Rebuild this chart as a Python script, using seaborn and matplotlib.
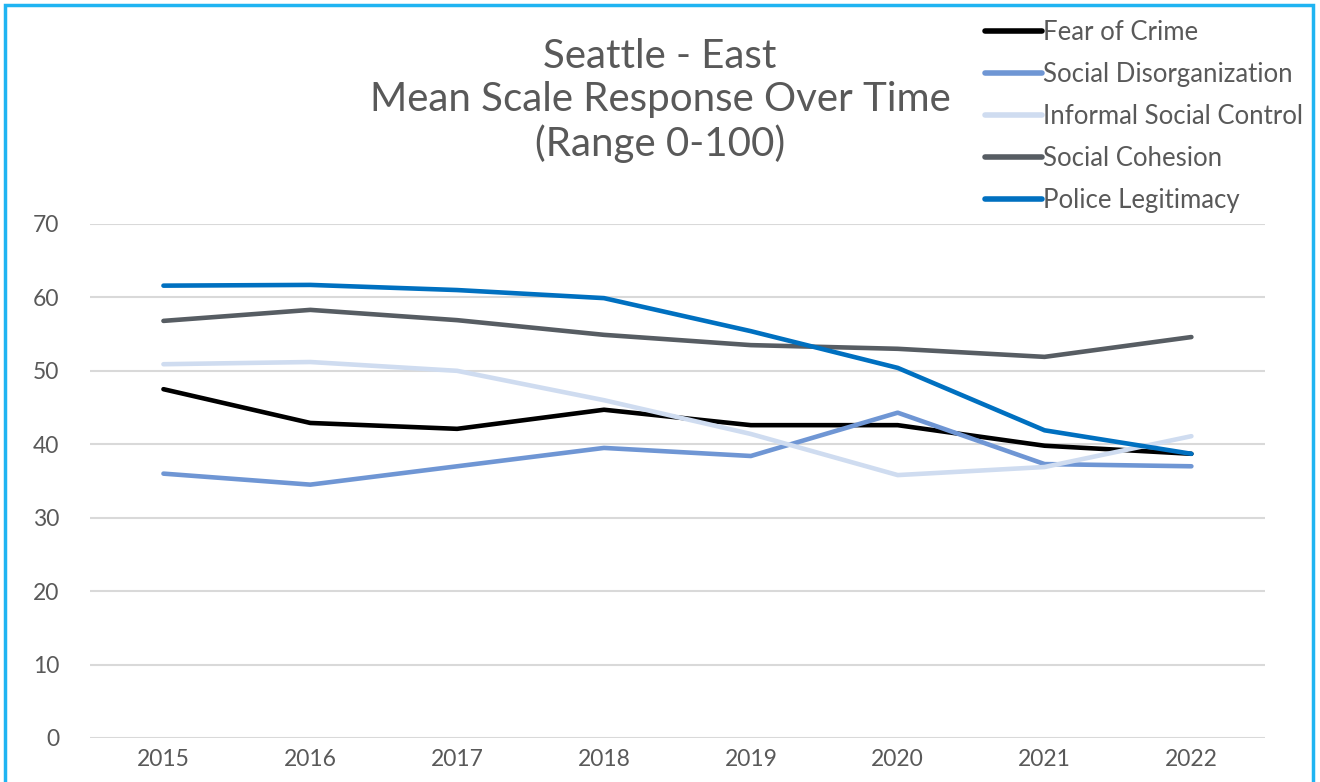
import seaborn as sns
import matplotlib.pyplot as plt
import pandas as pd
from matplotlib.patches import Rectangle

years = ["2015", "2016", "2017", "2018", "2019", "2020", "2021", "2022"]
fear_of_crime = [47.5, 42.9, 42.1, 44.7, 42.6, 42.6, 39.8, 38.7]
social_disorganization = [36.0, 34.5, 37.0, 39.5, 38.4, 44.3, 37.3, 37.0]
informal_social_control = [50.9, 51.2, 50.0, 46.0, 41.4, 35.8, 36.9, 41.1]
social_cohesion = [56.8, 58.3, 56.9, 54.9, 53.5, 53.0, 51.9, 54.6]
police_legitimacy = [61.6, 61.7, 61.0, 59.9, 55.4, 50.4, 41.9, 38.7]

series = {
    "Fear of Crime": fear_of_crime,
    "Social Disorganization": social_disorganization,
    "Informal Social Control": informal_social_control,
    "Social Cohesion": social_cohesion,
    "Police Legitimacy": police_legitimacy,
}
colors = ["#000000", "#6F96D4", "#CFDCF0", "#575D63", "#0070C0"]

# long format for seaborn
rows = []
for name, vals in series.items():
    for i, v in enumerate(vals):
        rows.append({"year": years[i], "idx": i, "value": v, "series": name})
df = pd.DataFrame(rows)

sns.set_style("white")
plt.rcParams['font.family'] = ['Lato', 'DejaVu Sans']
text_color = "#595959"

fig = plt.figure(figsize=(13.2, 7.82), dpi=100)
ax = fig.add_axes([0.0682, 0.0563, 0.890, 0.6573])

sns.lineplot(data=df, x="idx", y="value", hue="series", palette=colors,
             linewidth=3.3, ax=ax, legend=False, estimator=None, sort=False)
for ln in ax.lines:
    ln.set_solid_capstyle("round")
    ln.set_solid_joinstyle("round")

ax.set_xlim(-0.5, len(years) - 0.5)
ax.set_ylim(0, 70)
ax.set_yticks(range(0, 71, 10))
ax.set_xticks(range(len(years)))
ax.set_xticklabels(years)
ax.yaxis.grid(True, color="#D9D9D9", linewidth=1.5)
ax.set_axisbelow(True)
for s in ax.spines.values():
    s.set_visible(False)
ax.tick_params(axis="both", length=0, labelsize=16.5, labelcolor=text_color)
ax.tick_params(axis="y", pad=22)
ax.tick_params(axis="x", pad=8)
ax.set_xlabel("")
ax.set_ylabel("")

fig.text(0.50, 0.872, "Seattle - East\nMean Scale Response Over Time\n(Range 0-100)",
         ha="center", va="center", fontsize=29, color=text_color, linespacing=1.2)

# legend
handles = [plt.Line2D([], [], color=c, linewidth=4, solid_capstyle="round") for c in colors]
fig.legend(handles, list(series.keys()), loc="upper left",
           bbox_to_anchor=(0.729, 1.004), frameon=False,
           prop={"size": 18.5},
           labelcolor=text_color, handlelength=2.2, handletextpad=0.05,
           labelspacing=0.66)

# light blue chart border
fig.patches.append(Rectangle((0.004, -0.01), 0.991, 1.003, transform=fig.transFigure,
                             fill=False, edgecolor="#1FB4F2", linewidth=2.5))

fig.savefig("out.png", dpi=100)
